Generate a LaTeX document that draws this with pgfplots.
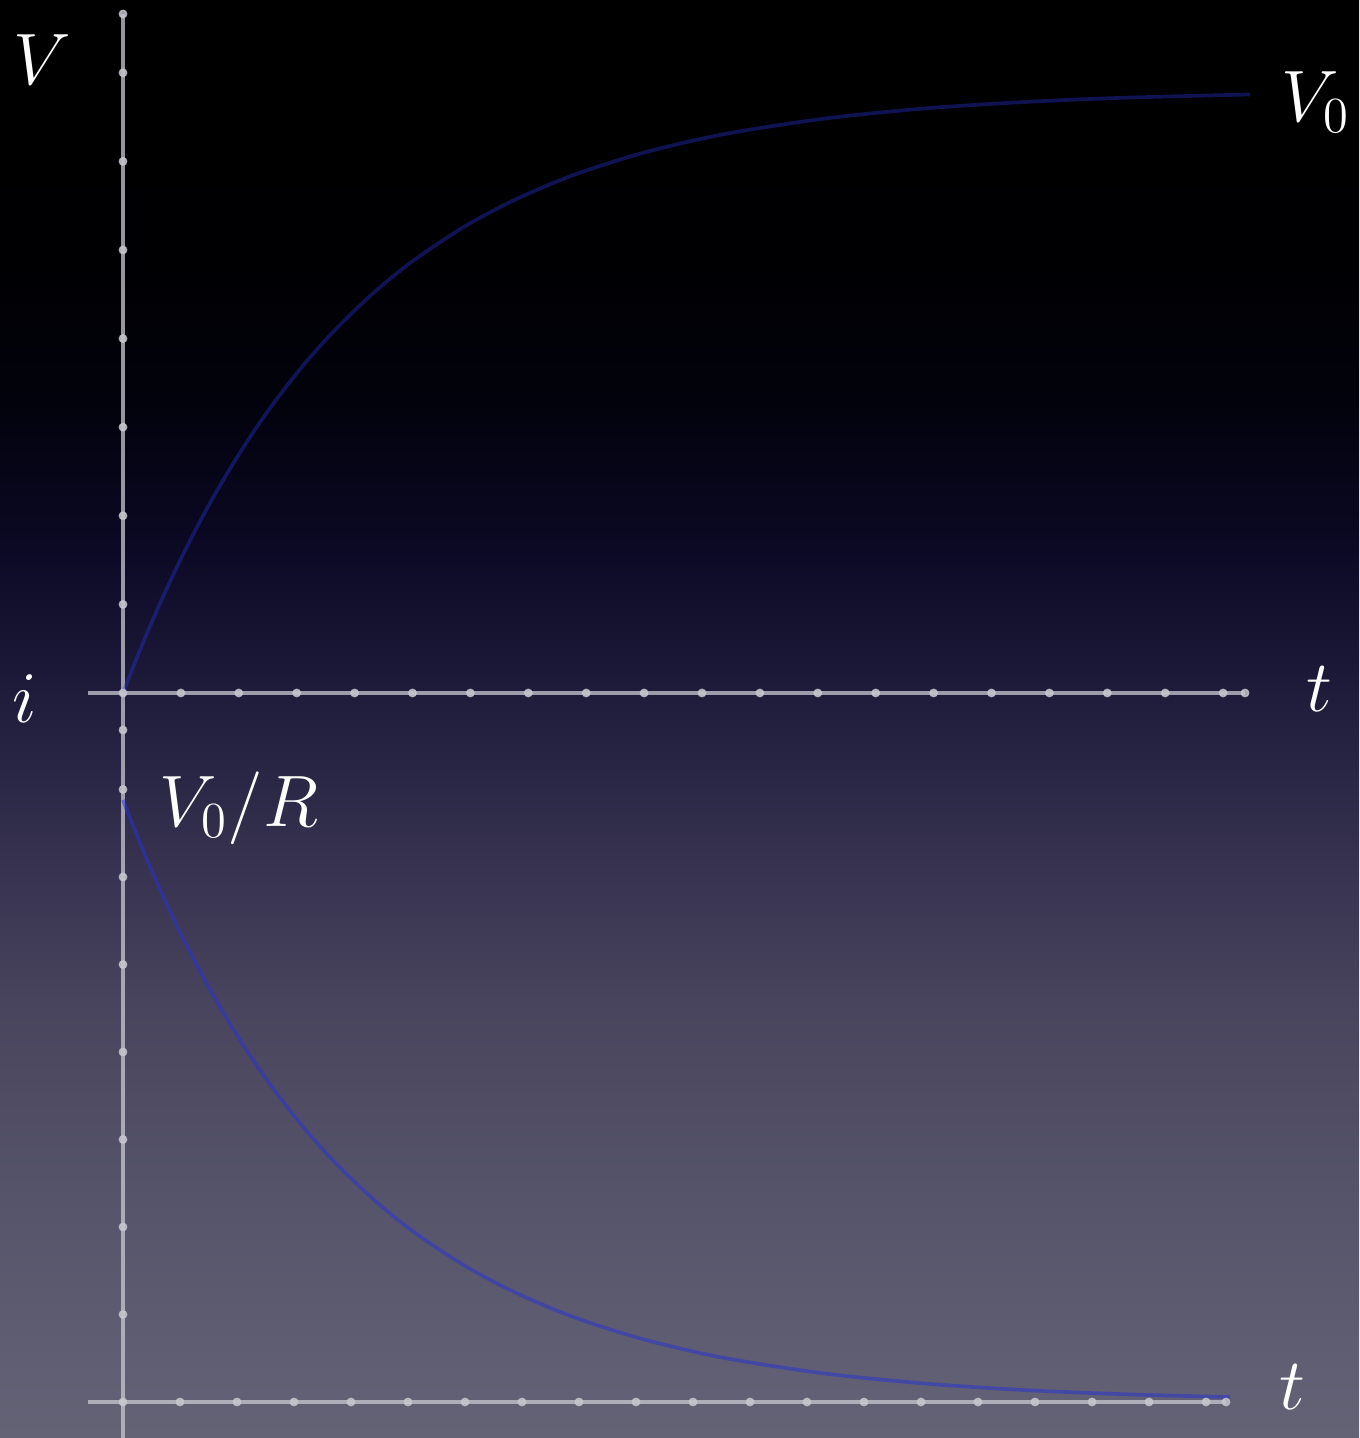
\documentclass[border=0pt]{standalone}
\usepackage{pgfplots}
\pgfplotsset{compat=1.18}

% backdrop: black at the top, fading to a slate grey at the bottom
\definecolor{bgA}{RGB}{100,99,118}
\definecolor{bgB}{RGB}{86,84,106}
\definecolor{bgC}{RGB}{72,68,93}
\definecolor{bgD}{RGB}{52,48,78}
\definecolor{bgE}{RGB}{31,28,60}
\definecolor{bgF}{RGB}{11,9,36}
\definecolor{bgG}{RGB}{2,2,12}
\definecolor{bgH}{RGB}{0,0,2}
\pgfdeclareverticalshading{backdrop}{100bp}{%
  color(0bp)=(bgA); color(25bp)=(bgA); color(33.3bp)=(bgB);
  color(40.2bp)=(bgC); color(45.5bp)=(bgD); color(50.7bp)=(bgE);
  color(55.9bp)=(bgF); color(61.1bp)=(bgG); color(66.3bp)=(bgH);
  color(75bp)=(black); color(100bp)=(black)}

\definecolor{axisgrey}{RGB}{200,200,208}
\definecolor{curveblue}{RGB}{40,50,215}

\pgfplotsset{
  axisstroke/.style={no marks, line width=1pt, color=axisgrey, opacity=0.75},
  tickdot/.style={only marks, mark=*, mark size=1.05pt, color=axisgrey,
    mark options={fill=axisgrey, draw=axisgrey, opacity=0.8}},
  curve/.style={no marks, smooth, line width=1.05pt, color=curveblue},
}
\tikzset{lbl/.style={text=white, inner sep=0pt, font=\fontsize{20.74}{25}\selectfont}}

\begin{document}
\begin{tikzpicture}
\shade[shading=backdrop] (0,0) rectangle (13.59cm,14.38cm);
\begin{axis}[
  at={(0,0)}, anchor=south west,
  scale only axis, width=13.59cm, height=14.38cm,
  xmin=0, xmax=1359, ymin=0, ymax=1438,
  axis lines=none, clip=false,
]
% axes
\addplot[axisstroke] coordinates {(123,1424) (123,0)};
\addplot[axisstroke] coordinates {(88,745) (1245,745)};
\addplot[axisstroke] coordinates {(88,36) (1226,36)};

% tick dots on the voltage axis
\addplot[tickdot] coordinates {
  (123,745) (123,833.6) (123,922.2) (123,1010.8) (123,1099.4)
  (123,1188) (123,1276.6) (123,1365.2) (123,1424)};
% tick dots on the current axis
\addplot[tickdot] coordinates {
  (123,36) (123,123.5) (123,211) (123,298.5) (123,386)
  (123,473.5) (123,561) (123,648.5) (123,708)};
% tick dots along the upper time axis
\addplot[tickdot] coordinates {
  (180.9,745) (238.8,745) (296.7,745) (354.6,745) (412.5,745)
  (470.4,745) (528.3,745) (586.2,745) (644.1,745) (702,745)
  (759.9,745) (817.8,745) (875.7,745) (933.6,745) (991.5,745)
  (1049.4,745) (1107.3,745) (1165.2,745) (1223.1,745) (1245,745)};
% tick dots along the lower time axis
\addplot[tickdot] coordinates {
  (180,36) (237,36) (294,36) (351,36) (408,36)
  (465,36) (522,36) (579,36) (636,36) (693,36)
  (750,36) (807,36) (864,36) (921,36) (978,36)
  (1035,36) (1092,36) (1149,36) (1206,36) (1226,36)};

% capacitor voltage while charging (drawn fainter on the dark part)
\addplot[curve, opacity=0.38] coordinates {
  (123,745) (138,783.0) (153,818.7) (168,852.1) (183,883.4)
  (203,922.2) (223,957.6) (248,997.8) (273,1033.9) (303,1072.3)
  (333,1106.0) (373,1144.7) (413,1177.1) (463,1210.5) (513,1237.3)
  (573,1262.8) (643,1285.1) (723,1303.6) (823,1319.2) (923,1329.4)
  (1023,1335.9) (1123,1340.2) (1250,1343.5)};

% charging current
\addplot[curve, opacity=0.5] coordinates {
  (123,638) (138,600.0) (153,564.4) (168,531.0) (183,499.8)
  (203,461.2) (223,425.7) (248,385.6) (273,349.6) (303,311.2)
  (333,277.6) (373,239.0) (413,206.6) (463,173.3) (513,146.5)
  (573,121.1) (643,98.8) (723,80.3) (823,64.7) (923,54.6)
  (1023,48.0) (1123,43.8) (1230,40.9)};

% labels
\node[lbl, anchor=base] at (axis cs:42,1353) {$V$};
\node[lbl, anchor=base west] at (axis cs:1281,1316) {$V_0$};
\node[lbl, anchor=base] at (axis cs:25,715) {$i$};
\node[lbl, anchor=base] at (axis cs:1319,726) {$t$};
\node[lbl, anchor=base] at (axis cs:1292,28) {$t$};
\node[lbl, anchor=base west] at (axis cs:159,611) {$V_0/R$};
\end{axis}
\pgfresetboundingbox
\path[use as bounding box] (0,0) rectangle (13.59cm,14.38cm);
\end{tikzpicture}
\end{document}
